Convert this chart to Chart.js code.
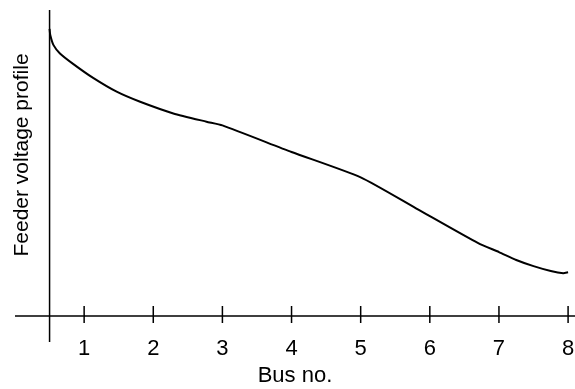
<!DOCTYPE html>
<html>
<head>
<meta charset="utf-8">
<script src="https://cdn.jsdelivr.net/npm/chart.js@4"></script>
<style>
html,body{margin:0;padding:0;background:#fff;}
#wrap{width:575px;height:389px;}
</style>
</head>
<body>
<div id="wrap"><canvas id="c"></canvas></div>
<script>
const busNo=[0.5,0.51,0.555,0.65,0.84,1.13,1.47,1.81,2.29,2.77,3,4,5,5.8,6.7,7,7.25,7.5,7.75,7.93,8];
const voltage=[0.9938,0.9918,0.9886,0.9858,0.9824,0.9778,0.9733,0.9700,0.9662,0.9635,0.9623,0.9536,0.9453,0.9352,0.9238,0.9209,0.9183,0.9163,0.9147,0.9140,0.9143];
const xTicks=[1,2,3,4,5,6,7,8];
const xTitle="Bus no.";
const yTitle="Feeder voltage profile";

const FONT="Arial, 'Liberation Sans', sans-serif";

const axesPlugin={
id:"axes",
afterDraw(chart){
const ctx=chart.ctx,a=chart.chartArea,xs=chart.scales.x;
ctx.save();
ctx.strokeStyle="#000";
ctx.lineWidth=1.5;
ctx.beginPath();
ctx.moveTo(a.left,a.bottom);ctx.lineTo(a.right,a.bottom);
const x0=xs.getPixelForValue(busNo[0]);
ctx.moveTo(x0,a.top);ctx.lineTo(x0,a.bottom+26);
xTicks.forEach(v=>{
const px=xs.getPixelForValue(v);
ctx.moveTo(px,a.bottom-10);ctx.lineTo(px,a.bottom+7);
});
ctx.stroke();
ctx.fillStyle="#000";
ctx.font="21px "+FONT;
ctx.translate(22,155);
ctx.rotate(-Math.PI/2);
ctx.textAlign="center";
ctx.textBaseline="middle";
ctx.fillText(yTitle,0,0);
ctx.restore();
}
};

new Chart(document.getElementById("c"),{
type:"scatter",
data:{datasets:[{
data:busNo.map((b,i)=>({x:b,y:voltage[i]})),
showLine:true,
borderColor:"#000",
borderWidth:2,
pointRadius:0,
tension:0.2
}]},
options:{
responsive:true,
maintainAspectRatio:false,
animation:false,
layout:{padding:{top:10,left:15,right:0,bottom:0}},
plugins:{legend:{display:false},tooltip:{enabled:false}},
scales:{
x:{
type:"linear",min:0,max:8.1,
afterBuildTicks:s=>{s.ticks=xTicks.map(v=>({value:v}));},
afterFit:s=>{s.height=73;s.paddingLeft=0;s.paddingRight=0;},
grid:{display:false,drawTicks:false},
border:{display:false},
ticks:{color:"#000",font:{size:22,family:FONT},padding:20,maxRotation:0},
title:{display:true,text:xTitle,color:"#000",font:{size:22,family:FONT},padding:{top:0,bottom:0}}
},
y:{
display:false,min:0.9,max:1.0
}
}
},
plugins:[axesPlugin]
});
</script>
</body>
</html>
